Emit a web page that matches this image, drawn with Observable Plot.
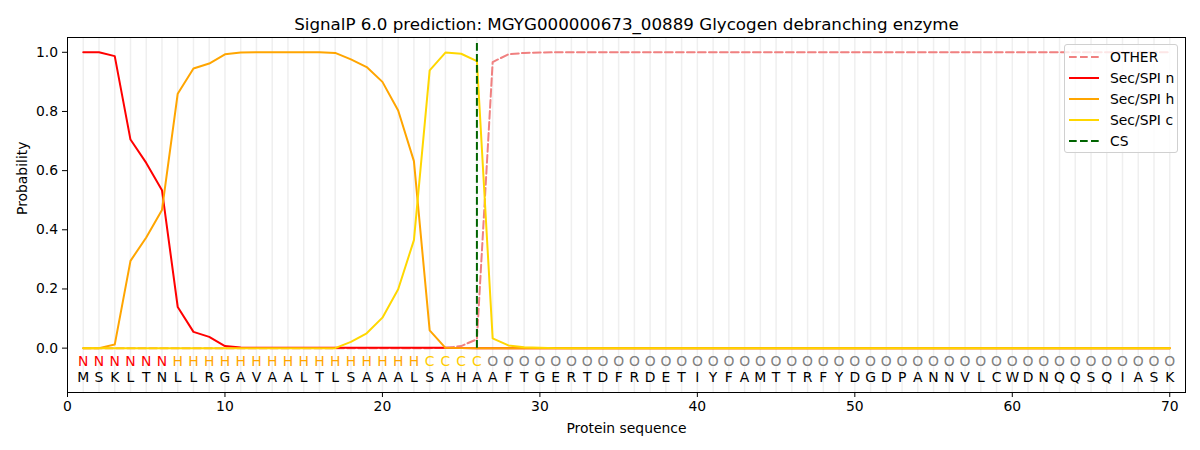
<!DOCTYPE html>
<html>
<head>
<meta charset="utf-8">
<script src="https://cdn.jsdelivr.net/npm/d3@7"></script>
<script src="https://cdn.jsdelivr.net/npm/@observablehq/plot@0.6"></script>
<style>
  body { margin: 0; background: #fff; font-family: "DejaVu Sans", sans-serif; }
  #wrap { position: relative; width: 1200px; height: 450px; }
  #legend {
    position: absolute; left: 1064px; top: 44px; width: 112px; height: 107px;
    border: 1px solid #d0d0d0; border-radius: 3px; background: rgba(255,255,255,0.8);
    font-family: "DejaVu Sans", sans-serif; font-size: 13.9px; color: #000;
  }
  .item { position: absolute; left: 0; height: 20px; display: flex; align-items: center; }
  .item svg { margin-left: 4px; margin-right: 11px; }
</style>
</head>
<body>
<div id="wrap">
  <div id="chart"></div>
  <div id="legend"></div>
</div>
<script>
const title = "SignalP 6.0 prediction: MGYG000000673_00889 Glycogen debranching enzyme";
const sequence = ["M","S","K","L","T","N","L","L","R","G","A","V","A","A","L","T","L","S","A","A","A","L","S","A","H","A","A","F","T","G","E","R","T","D","F","R","D","E","T","I","Y","F","A","M","T","T","R","F","Y","D","G","D","P","A","N","N","V","L","C","W","D","N","Q","Q","S","Q","I","A","S","K"];
const labels = ["N","N","N","N","N","N","H","H","H","H","H","H","H","H","H","H","H","H","H","H","H","H","C","C","C","C","O","O","O","O","O","O","O","O","O","O","O","O","O","O","O","O","O","O","O","O","O","O","O","O","O","O","O","O","O","O","O","O","O","O","O","O","O","O","O","O","O","O","O","O"];
const other = [0,0,0,0,0,0,0,0,0,0, 0,0,0,0,0,0,0,0,0,0, 0,0,0,0.001,0.007,0.030,0.967,0.993,0.998,0.999, 1,1,1,1,1,1,1,1,1,1, 1,1,1,1,1,1,1,1,1,1, 1,1,1,1,1,1,1,1,1,1, 1,1,1,1,1,1,1,1,1,1];
const secN = [1.000,1.000,0.987,0.705,0.626,0.534,0.139,0.055,0.038,0.007, 0.002,0.001,0.001,0.001,0.001,0.001,0.001,0.001,0.001,0.001, 0.001,0.001,0.001,0.001,0,0,0,0,0,0, 0,0,0,0,0,0,0,0,0,0, 0,0,0,0,0,0,0,0,0,0, 0,0,0,0,0,0,0,0,0,0, 0,0,0,0,0,0,0,0,0,0];
const secH = [0,0,0.012,0.295,0.374,0.467,0.860,0.945,0.962,0.993, 0.999,1.000,1.000,1.000,1.000,1.000,0.998,0.976,0.950,0.900, 0.803,0.632,0.060,0.001,0,0,0,0,0,0, 0,0,0,0,0,0,0,0,0,0, 0,0,0,0,0,0,0,0,0,0, 0,0,0,0,0,0,0,0,0,0, 0,0,0,0,0,0,0,0,0,0];
const secC = [0,0,0,0,0,0,0,0,0,0, 0,0,0,0,0,0,0,0.021,0.050,0.103, 0.199,0.365,0.939,0.999,0.995,0.970,0.033,0.009,0.003,0.001, 0,0,0,0,0,0,0,0,0,0, 0,0,0,0,0,0,0,0,0,0, 0,0,0,0,0,0,0,0,0,0, 0,0,0,0,0,0,0,0,0,0];
const csPos = [26];
const xTicks = [0,10,20,30,40,50,60,70];
const yTicks = [0,0.2,0.4,0.6,0.8,1.0];

const labelColor = {N: "red", H: "orange", C: "#ffcc00", O: "#808080"};
const series = [
  {name: "OTHER", values: other, color: "#f08080", dash: "7.7,3.3"},
  {name: "Sec/SPI n", values: secN, color: "red", dash: null},
  {name: "Sec/SPI h", values: secH, color: "orange", dash: null},
  {name: "Sec/SPI c", values: secC, color: "#ffd700", dash: null}
];

const residues = sequence.map((aa, i) => ({pos: i + 1, aa, lab: labels[i]}));
const font = "DejaVu Sans, sans-serif";

const marks = [
  Plot.ruleX(residues, {x: "pos", stroke: "#efefef", strokeWidth: 1.5}),
  ...series.map(s => Plot.line(s.values.map((v, i) => ({pos: i + 1, v})), {
    x: "pos", y: "v", stroke: s.color, strokeWidth: 2, strokeDasharray: s.dash
  })),
  Plot.ruleX(csPos, {x: d => d, y1: 0, y2: 1.035, stroke: "darkgreen", strokeWidth: 2, strokeDasharray: "7.7,3.3"}),
  Plot.text(residues, {x: "pos", text: "lab", fill: d => labelColor[d.lab], frameAnchor: "bottom", dy: -27, fontSize: 13.9}),
  Plot.text(residues, {x: "pos", text: "aa", fill: "black", frameAnchor: "bottom", dy: -11, fontSize: 13.9}),
  Plot.frame({stroke: "black", strokeWidth: 1}),
  Plot.axisX({ticks: xTicks, tickSize: 5, tickPadding: 3.5, fontSize: 13.9, label: null}),
  Plot.axisY({ticks: yTicks, tickSize: 5, tickPadding: 4.5, fontSize: 13.9, tickFormat: d3.format(".1f"), label: null}),
  Plot.text([title], {frameAnchor: "top", dy: -19, fontSize: 16.7, fill: "black"}),
  Plot.text(["Probability"], {frameAnchor: "left", dx: -45, rotate: -90, fontSize: 13.9, fill: "black"}),
  Plot.text(["Protein sequence"], {frameAnchor: "bottom", dy: 40, fontSize: 13.9, fill: "black"})
];

const chart = Plot.plot({
  width: 1200,
  height: 450,
  marginLeft: 67,
  marginRight: 15,
  marginTop: 37,
  marginBottom: 58,
  style: {fontFamily: font, fontSize: "13.9px", color: "black", background: "white"},
  x: {domain: [0, 71]},
  y: {domain: [-0.15, 1.05]},
  marks
});
document.getElementById("chart").appendChild(chart);

// Legend
const legend = document.getElementById("legend");
const legendItems = [...series.map(s => ({name: s.name, color: s.color, dash: s.dash})), {name: "CS", color: "darkgreen", dash: "7.7,3.3"}];
legendItems.forEach((it, i) => {
  const div = document.createElement("div");
  div.className = "item";
  div.style.top = (2 + i * 21) + "px";
  div.innerHTML = `<svg width="30" height="10"><line x1="0" y1="5" x2="30" y2="5" stroke="${it.color}" stroke-width="2" ${it.dash ? `stroke-dasharray="${it.dash}"` : ""}/></svg><span>${it.name}</span>`;
  legend.appendChild(div);
});
</script>
</body>
</html>
